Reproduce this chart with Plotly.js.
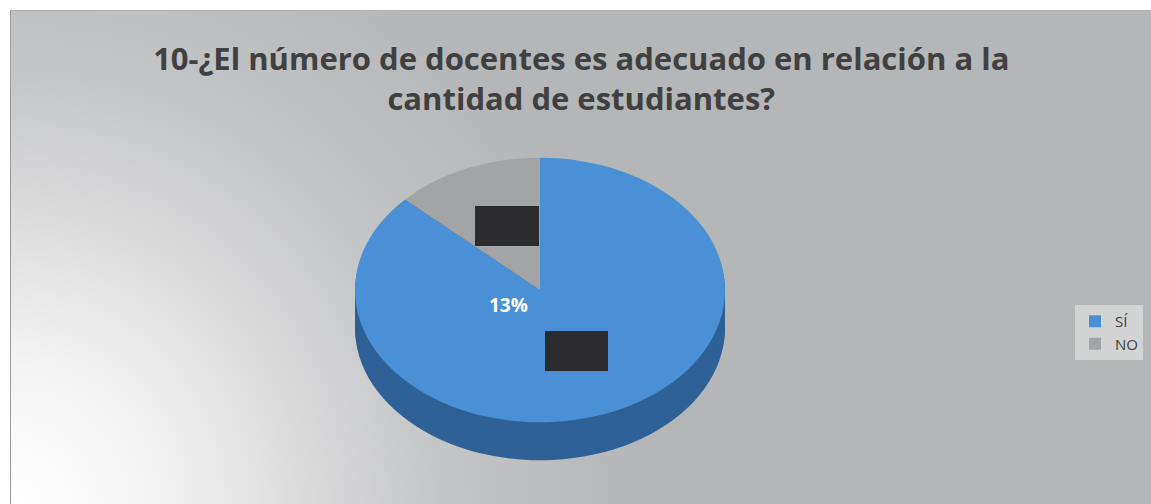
<!DOCTYPE html>
<html>
<head>
<meta charset="utf-8">
<script src="https://cdn.plot.ly/plotly-3.0.1.min.js"></script>
<style>
  html, body { margin:0; padding:0; background:#ffffff; width:1151px; height:504px; overflow:hidden; }
  #frame { position:absolute; left:10px; top:10px; width:1150px; height:500px;
    border-left:1px solid #9a9a9a; border-top:1px solid #b0b0b0;
    background: radial-gradient(ellipse 55% 130% at 0% 100%, #ffffff 0%, #f4f4f4 22%, #dcdcdd 45%, #c4c5c7 68%, #b4b6b8 100%); }
  #chart { position:absolute; left:0; top:0; width:1151px; height:504px; }
</style>
</head>
<body>
<div id="frame"></div>
<div id="chart"></div>
<script>
// ---- data ----
const categories = ['SÍ', 'NO'];
const values = [87, 13];
const faceColors = ['#4a90d6', '#a2a4a6'];
const rimColors = ['#2f6196', '#6f7173'];
const titleText = '10-¿El número de docentes es adecuado en relación a la<br>cantidad de estudiantes?';

// ---- layout constants (pixels) ----
const W = 1151, H = 504;
const cxPx = 540, cyPx = 290, R = 185;
const squash = 0.715;
const depth = 38;

const domain = {
  x: [(cxPx - R) / W, (cxPx + R) / W],
  y: [1 - (cyPx + R) / H, 1 - (cyPx - R) / H]
};

const traces = [];
const rimSteps = [];
for (let d = depth; d >= 1; d -= 2) rimSteps.push(d);
rimSteps.forEach(() => {
  traces.push({
    type: 'pie', labels: categories, values: values, sort: false,
    direction: 'clockwise', rotation: 0, domain: domain,
    marker: { colors: rimColors, line: { width: 0 } },
    textinfo: 'none', hoverinfo: 'skip', showlegend: false
  });
});
traces.push({
  type: 'pie', labels: categories, values: values, sort: false,
  direction: 'clockwise', rotation: 0, domain: domain,
  marker: { colors: faceColors, line: { width: 0 } },
  textinfo: 'none', hoverinfo: 'label+percent', showlegend: true
});

const total = values.reduce((a, b) => a + b, 0);
const pctNO = Math.round(100 * values[1] / total) + '%';

const layout = {
  width: W, height: H,
  margin: { l: 0, r: 0, t: 0, b: 0 },
  paper_bgcolor: 'rgba(0,0,0,0)',
  plot_bgcolor: 'rgba(0,0,0,0)',
  title: {
    text: titleText,
    x: 0.505, xanchor: 'center',
    y: 1 - 70 / H, yanchor: 'top',
    font: { family: 'Open Sans, sans-serif', size: 31, color: '#404040', weight: 'bold' }
  },
  showlegend: true,
  legend: {
    x: 1075 / W, xanchor: 'left', y: 1 - 305 / H, yanchor: 'top',
    bgcolor: '#d2d3d3', borderwidth: 0,
    font: { family: 'Open Sans, sans-serif', size: 15, color: '#404040' },
    tracegroupgap: 4, itemwidth: 30
  },
  annotations: [{
    text: '<b>' + pctNO + '</b>', xref: 'paper', yref: 'paper',
    x: 508 / W, y: 1 - 305 / H, showarrow: false,
    font: { family: 'Open Sans, sans-serif', size: 19, color: '#ffffff' }
  }],
  shapes: [
    { type: 'rect', xref: 'paper', yref: 'paper', layer: 'above',
      x0: 475 / W, x1: 539 / W, y0: 1 - 246 / H, y1: 1 - 206 / H,
      fillcolor: '#2c2c2e', line: { width: 0 } },
    { type: 'rect', xref: 'paper', yref: 'paper', layer: 'above',
      x0: 545 / W, x1: 608 / W, y0: 1 - 371 / H, y1: 1 - 331 / H,
      fillcolor: '#2c2c2e', line: { width: 0 } }
  ]
};

Plotly.newPlot('chart', traces, layout, { staticPlot: true, displayModeBar: false }).then(() => {
  const gs = document.querySelectorAll('.pielayer .trace');
  gs.forEach((g, i) => {
    const off = i < rimSteps.length ? rimSteps[i] : 0;
    g.setAttribute('transform',
      'translate(0,' + (cyPx + off) + ') scale(1,' + squash + ') translate(0,' + (-cyPx) + ')');
  });
});
</script>
</body>
</html>
